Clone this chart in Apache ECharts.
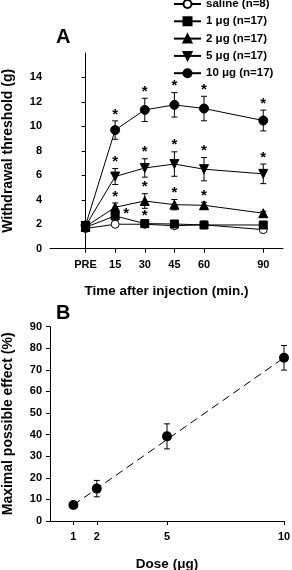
<!DOCTYPE html>
<html>
<head>
<meta charset="utf-8">
<script src="https://cdn.jsdelivr.net/npm/echarts@6/dist/echarts.min.js"></script>
<style>html,body{margin:0;padding:0;background:#fff;}#c{width:292px;height:570px;}</style>
</head>
<body>
<div id="c"></div>
<script>
// ---- Panel A data ----
const timePoints = [0, 15, 30, 45, 60, 90]; // 0 = PRE
const timeLabels = ['PRE', '15', '30', '45', '60', '90'];
const seriesNames = ['saline (n=8)', '1 \u03bcg (n=17)', '2 \u03bcg (n=17)', '5 \u03bcg (n=17)', '10 \u03bcg (n=17)'];
const salineVals = [1.65, 2.0, 2.0, 1.88, 1.95, 1.56];
const salineErr  = [0.1, 0.1, 0.1, 0.08, 0.08, 0.1];
const salineSig  = [0, 0, 0, 0, 0, 0];
const dose1Vals = [1.75, 2.68, 2.05, 2.02, 1.94, 1.94];
const dose1Err  = [0.12, 0.35, 0.12, 0.1, 0.08, 0.1];
const dose1Sig  = [0, 1, 1, 0, 0, 0];
const dose2Vals = [1.8, 3.39, 3.9, 3.6, 3.55, 2.9];
const dose2Err  = [0.12, 0.35, 0.6, 0.42, 0.25, 0.15];
const dose2Sig  = [0, 1, 1, 1, 1, 0];
const dose5Vals = [1.85, 5.9, 6.6, 6.92, 6.5, 6.12];
const dose5Err  = [0.12, 0.65, 0.75, 1.0, 0.95, 0.8];
const dose5Sig  = [0, 1, 1, 1, 1, 1];
const dose10Vals = [1.9, 9.7, 11.35, 11.76, 11.46, 10.48];
const dose10Err  = [0.12, 0.75, 0.95, 1.0, 1.0, 0.85];
const dose10Sig  = [0, 1, 1, 1, 1, 1];
const yTicksA = [0, 2, 4, 6, 8, 10, 12, 14];

// ---- Panel B data ----
const doses = [1, 2, 5, 10];
const mpeVals = [7.4, 15.0, 39.2, 75.6];
const mpeErr  = [0.8, 3.8, 5.8, 5.7];
const fitDoses = [1, 10];
const fitVals = [7.4, 75.6];
const yTicksB = [0, 10, 20, 30, 40, 50, 60, 70, 80, 90];

const FONT = '"Liberation Sans", Arial, sans-serif';
const chart = echarts.init(document.getElementById('c'));

const groups = [
  {name: seriesNames[0], vals: salineVals, err: salineErr, sig: salineSig, symbol: 'circle', rot: 0, size: 8, fill: '#fff'},
  {name: seriesNames[1], vals: dose1Vals, err: dose1Err, sig: dose1Sig, symbol: 'rect', rot: 0, size: 8, fill: '#000'},
  {name: seriesNames[2], vals: dose2Vals, err: dose2Err, sig: dose2Sig, symbol: 'triangle', rot: 0, size: 9, fill: '#000'},
  {name: seriesNames[3], vals: dose5Vals, err: dose5Err, sig: dose5Sig, symbol: 'triangle', rot: 180, size: 9, fill: '#000'},
  {name: seriesNames[4], vals: dose10Vals, err: dose10Err, sig: dose10Sig, symbol: 'circle', rot: 0, size: 9, fill: '#000'}
];

function errRender(capW) {
  return function (params, api) {
    const x = api.value(0), v = api.value(1), e = api.value(2);
    const lo = api.coord([x, v - e]), hi = api.coord([x, v + e]);
    const st = {stroke: '#000', lineWidth: 1};
    return {type: 'group', children: [
      {type: 'line', shape: {x1: lo[0], y1: lo[1], x2: hi[0], y2: hi[1]}, style: st},
      {type: 'line', shape: {x1: hi[0] - capW, y1: hi[1], x2: hi[0] + capW, y2: hi[1]}, style: st},
      {type: 'line', shape: {x1: lo[0] - capW, y1: lo[1], x2: lo[0] + capW, y2: lo[1]}, style: st}
    ]};
  };
}

const series = [];
groups.forEach((g, gi) => {
  series.push({
    type: 'custom', xAxisIndex: 0, yAxisIndex: 0, silent: true, z: 2,
    renderItem: errRender(3),
    data: timePoints.map((t, i) => [t, g.vals[i], g.err[i]])
  });
});
groups.forEach((g) => {
  series.push({
    name: g.name, type: 'line', xAxisIndex: 0, yAxisIndex: 0, z: 3,
    symbol: g.symbol, symbolRotate: g.rot, symbolSize: g.size,
    lineStyle: {color: '#000', width: 1},
    itemStyle: {color: g.fill, borderColor: '#000', borderWidth: 1},
    data: timePoints.map((t, i) => [t, g.vals[i]])
  });
});
// asterisks
groups.forEach((g, gi) => {
  const pts = [];
  timePoints.forEach((t, i) => { if (g.sig[i]) pts.push([t, g.vals[i], g.err[i], gi === 1 && i === 1 ? 1 : 0]); });
  if (!pts.length) return;
  series.push({
    type: 'custom', xAxisIndex: 0, yAxisIndex: 0, silent: true, z: 4,
    renderItem: function (params, api) {
      const x = api.value(0), v = api.value(1), e = api.value(2), side = api.value(3);
      let p, tx, ty;
      if (side) { p = api.coord([x, v]); tx = p[0] + 11; ty = p[1] + 5; }
      else { p = api.coord([x, v + e]); tx = p[0]; ty = p[1] + 1; }
      return {type: 'text', x: tx, y: ty, style: {text: '*', font: 'bold 15px ' + FONT, fill: '#000', align: 'center', verticalAlign: 'bottom'}};
    },
    data: pts
  });
});
// panel B
series.push({
  type: 'line', xAxisIndex: 1, yAxisIndex: 1, symbol: 'none', silent: true, z: 1,
  lineStyle: {color: '#000', width: 1, type: [8, 5]},
  data: fitDoses.map((d, i) => [d, fitVals[i]])
});
series.push({
  type: 'custom', xAxisIndex: 1, yAxisIndex: 1, silent: true, z: 2,
  renderItem: errRender(3),
  data: doses.map((d, i) => [d, mpeVals[i], mpeErr[i]])
});
series.push({
  type: 'scatter', xAxisIndex: 1, yAxisIndex: 1, symbol: 'circle', symbolSize: 10, z: 3,
  itemStyle: {color: '#000', opacity: 1},
  data: doses.map((d, i) => [d, mpeVals[i]])
});

const axisLine = {show: true, lineStyle: {color: '#000', width: 1}};
const tick = {show: true, inside: false, length: 4, lineStyle: {color: '#000'}};
const labelStyle = {color: '#000', fontFamily: FONT, fontWeight: 'bold', fontSize: 11};
const xNameStyle = {color: '#000', fontFamily: FONT, fontWeight: 'bold', fontSize: 13.5};
const yNameStyle = {color: '#000', fontFamily: FONT, fontWeight: 'bold', fontSize: 14};

chart.setOption({
  animation: false,
  backgroundColor: '#fff',
  grid: [
    {left: 50, right: 9, top: 53, height: 195.7, containLabel: false, outerBoundsMode: 'none'},
    {left: 50, right: 8, top: 326.7, height: 194.3, containLabel: false, outerBoundsMode: 'none'}
  ],
  legend: {
    orient: 'vertical', left: 173, top: -2, padding: 0, itemWidth: 27, itemHeight: 10, itemGap: 5.3,
    textStyle: {color: '#000', fontFamily: FONT, fontWeight: 'bold', fontSize: 11.5},
    data: seriesNames
  },
  xAxis: [
    {
      gridIndex: 0, type: 'value', min: -18, max: 100, splitLine: {show: false},
      axisLine: axisLine,
      axisTick: Object.assign({}, tick, {customValues: timePoints}),
      axisLabel: Object.assign({}, labelStyle, {customValues: timePoints, margin: 11,
        formatter: v => timeLabels[timePoints.indexOf(v)]}),
      name: 'Time after injection (min.)', nameLocation: 'middle', nameGap: 36, nameTextStyle: xNameStyle
    },
    {
      gridIndex: 1, type: 'value', min: 0, max: 10, splitLine: {show: false},
      axisLine: axisLine,
      axisTick: Object.assign({}, tick, {customValues: doses}),
      axisLabel: Object.assign({}, labelStyle, {customValues: doses, margin: 10}),
      name: 'Dose (\u03bcg)', nameLocation: 'middle', nameGap: 36, nameTextStyle: xNameStyle
    }
  ],
  yAxis: [
    {
      gridIndex: 0, type: 'value', min: 0, max: 16, splitLine: {show: false},
      axisLine: axisLine,
      axisTick: Object.assign({}, tick, {customValues: yTicksA}),
      axisLabel: Object.assign({}, labelStyle, {customValues: yTicksA, margin: 8}),
      name: 'Withdrawal threshold (g)', nameLocation: 'middle', nameGap: 35, nameTextStyle: yNameStyle
    },
    {
      gridIndex: 1, type: 'value', min: 0, max: 90, interval: 10, splitLine: {show: false},
      axisLine: axisLine,
      axisTick: Object.assign({}, tick, {customValues: yTicksB}),
      axisLabel: Object.assign({}, labelStyle, {customValues: yTicksB, margin: 8}),
      name: 'Maximal possible effect (%)', nameLocation: 'middle', nameGap: 35, nameTextStyle: yNameStyle
    }
  ],
  graphic: [
    {type: 'text', left: 56, top: 27, style: {text: 'A', font: 'bold 20px ' + FONT, fill: '#000'}},
    {type: 'text', left: 56, top: 303, style: {text: 'B', font: 'bold 20px ' + FONT, fill: '#000'}}
  ],
  series: series
});
</script>
</body>
</html>
